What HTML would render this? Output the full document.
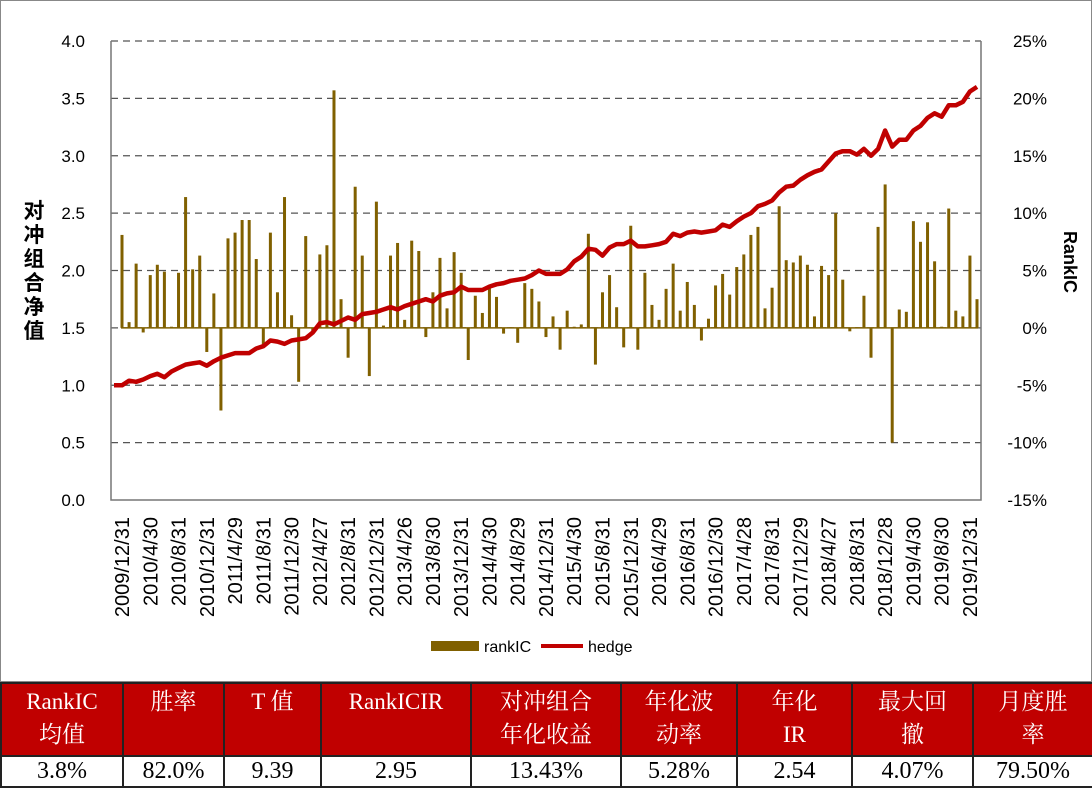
<!DOCTYPE html>
<html><head><meta charset="utf-8"><style>
body{margin:0;width:1092px;height:789px;background:#fff;overflow:hidden;font-family:"Liberation Sans","Noto Sans CJK SC",sans-serif}
#chartbox{position:absolute;left:0;top:0;width:1090px;height:680px;border:1px solid #888;}
table{position:absolute;left:0;top:682px;width:1092px;table-layout:fixed;border-collapse:collapse;font-family:"Liberation Serif","Noto Serif CJK SC",serif;}
td{border:2px solid #222;text-align:center;padding:0;overflow:hidden;white-space:nowrap}
tr.h td{background:#c00000;color:#fff;font-size:23px;line-height:33px;height:70px;vertical-align:top;padding-top:1px}
tr.d td{background:#fff;color:#000;font-size:24px;height:29px;line-height:29px}
</style></head><body>
<div id="chartbox">
<svg id="svg" width="1092" height="680"></svg>
</div>
<table>
<colgroup><col style="width:122px"><col style="width:101px"><col style="width:97px"><col style="width:150px"><col style="width:150px"><col style="width:116px"><col style="width:115px"><col style="width:121px"><col style="width:120px"></colgroup>
<tr class="h">
<td>RankIC<br>均值</td>
<td>胜率</td>
<td>T 值</td>
<td>RankICIR</td>
<td>对冲组合<br>年化收益</td>
<td>年化波<br>动率</td>
<td>年化<br>IR</td>
<td>最大回<br>撤</td>
<td>月度胜<br>率</td>
</tr>
<tr class="d">
<td>3.8%</td>
<td>82.0%</td>
<td>9.39</td>
<td>2.95</td>
<td>13.43%</td>
<td>5.28%</td>
<td>2.54</td>
<td>4.07%</td>
<td>79.50%</td>
</tr>
</table>
<script>
const rankIC=[8.1,0.5,5.6,-0.4,4.6,5.5,4.9,0.1,4.8,11.4,5.1,6.3,-2.1,3.0,-7.2,7.8,8.3,9.4,9.4,6.0,-1.6,8.3,3.1,11.4,1.1,-4.7,8.0,-0.3,6.4,7.2,20.7,2.5,-2.6,12.3,6.3,-4.2,11.0,0.2,6.3,7.4,0.7,
7.6,6.7,-0.8,3.1,6.1,1.7,6.6,4.8,-2.8,2.8,1.3,3.7,2.7,-0.5,0.05,-1.3,3.9,3.4,2.3,-0.8,1.0,-1.9,1.5,0.1,0.3,8.2,-3.2,3.1,4.6,1.8,-1.7,8.9,-1.9,4.8,2.0,0.7,3.4,5.6,1.5,4.0,2.0,
-1.1,0.8,3.7,4.7,2.9,5.3,6.4,8.1,8.8,1.7,3.5,10.6,5.9,5.7,6.3,5.5,1.0,5.4,4.6,10.0,4.2,-0.3,0.05,2.8,-2.6,8.8,12.5,-10.0,1.6,1.4,9.3,7.5,9.2,5.8,0.1,10.4,1.5,1.0,6.3,2.5];
const hedge=[1.00,1.04,1.03,1.05,1.08,1.10,1.07,1.12,1.15,1.18,1.19,1.20,1.17,1.21,1.24,1.26,1.28,1.28,1.28,1.32,1.34,1.39,1.38,1.36,1.39,1.40,1.41,1.46,1.54,1.55,1.53,1.56,1.59,1.57,1.62,1.63,1.64,1.66,1.68,1.66,1.69,1.71,1.73,1.75,1.73,1.78,1.80,1.81,1.86,1.83,1.83,1.83,1.86,1.88,1.89,1.91,1.92,1.93,1.96,2.00,1.97,1.97,1.97,2.01,2.08,2.12,2.19,2.18,2.13,2.20,2.23,2.23,2.26,2.21,2.21,2.22,2.23,2.25,2.32,2.30,2.33,2.34,2.33,2.34,2.35,2.40,2.38,2.43,2.47,2.50,2.56,2.58,2.61,2.68,2.73,2.74,2.79,2.83,2.86,2.88,2.95,3.02,3.04,3.04,3.01,3.06,3.00,3.06,3.22,3.08,3.14,3.14,3.22,3.26,3.33,3.37,3.34,3.44,3.44,3.47,3.56,3.60];
const xLabels=["2009/12/31","2010/4/30","2010/8/31","2010/12/31","2011/4/29","2011/8/31","2011/12/30","2012/4/27","2012/8/31","2012/12/31","2013/4/26","2013/8/30","2013/12/31","2014/4/30","2014/8/29","2014/12/31","2015/4/30","2015/8/31","2015/12/31","2016/4/29","2016/8/31","2016/12/30","2017/4/28","2017/8/31","2017/12/29","2018/4/27","2018/8/31","2018/12/28","2019/4/30","2019/8/30","2019/12/31"];
const leftTicks=[0,0.5,1,1.5,2,2.5,3,3.5,4];
const rightTicks=[-15,-10,-5,0,5,10,15,20,25];

const NS="http://www.w3.org/2000/svg";
const svg=document.getElementById('svg');
const L=110,R=980,T=40,B=499;
const yL=v=>B-(v-0)/4*(B-T);
const yR=v=>B-(v+15)/40*(B-T);
const n=rankIC.length;
const xS=i=>121+i*(976-121)/(n-1);
function el(tag,attrs,parent){const e=document.createElementNS(NS,tag);for(const k in attrs)e.setAttribute(k,attrs[k]);(parent||svg).appendChild(e);return e;}
leftTicks.forEach((t,i)=>{
  if(t>0){const g=el('line',{x1:L,x2:R,y1:yL(t),y2:yL(t),stroke:'#555','stroke-width':1.3,'stroke-dasharray':'7,5'});
  
  }
  const tx=el('text',{x:84,y:yL(t)+6,'text-anchor':'end','font-size':17,fill:'#000'});tx.textContent=t.toFixed(1);
  
  
});
rightTicks.forEach(t=>{
  const tx=el('text',{x:1046,y:yR(t)+6,'text-anchor':'end','font-size':17,fill:'#000'});tx.textContent=t+'%';
  
  
});
const ax=el('path',{d:`M${L},${T} V${B} H${R} V${T}`,fill:'none',stroke:'#777','stroke-width':1.5});


const z=yR(0);
const base=el('line',{x1:xS(0)-1,x2:xS(n-1)+1,y1:z,y2:z,stroke:'#806000','stroke-width':1.5});


rankIC.forEach((v,i)=>{
  const y=yR(v);
  const b=el('rect',{x:xS(i)-1.5,y:Math.min(y,z),width:3,height:Math.max(1,Math.abs(y-z)),fill:'#806000'});
  
  
});
let d='';hedge.forEach((v,i)=>{d+=(i?'L':'M')+xS(i).toFixed(1)+','+yL(v).toFixed(1)});
const ln=el('path',{d:'M113,'+yL(hedge[0]).toFixed(1)+d.replace(/^M/,'L'),fill:'none',stroke:'#c00000','stroke-width':4.5,'stroke-linejoin':'round'});


xLabels.forEach((s,k)=>{
  const x=xS(k*4)+7;
  const tx=el('text',{x:0,y:0,'text-anchor':'end','font-size':20,fill:'#000',transform:`translate(${x},516) rotate(-90)`});tx.textContent=s;
  
  
});
const yt=el('text',{x:33,y:0,'font-size':21,'font-weight':'bold',fill:'#000','text-anchor':'middle'});


"对冲组合净值".split('').forEach((c,i)=>{const s=el('tspan',{x:33,y:217+i*24},yt);s.textContent=c;});
const rt=el('text',{x:0,y:0,'font-size':18,'font-weight':'bold',fill:'#000','text-anchor':'middle',transform:'translate(1063,261) rotate(90)'});rt.textContent='RankIC';


const lg=el('g',{});


el('rect',{x:430,y:640,width:48,height:10,fill:'#806000'},lg);
const t1=el('text',{x:483,y:651,'font-size':16,fill:'#000'},lg);t1.textContent='rankIC';
el('line',{x1:540,x2:582,y1:645,y2:645,stroke:'#c00000','stroke-width':4},lg);
const t2=el('text',{x:587,y:651,'font-size':16,fill:'#000'},lg);t2.textContent='hedge';
</script>
</body></html>
